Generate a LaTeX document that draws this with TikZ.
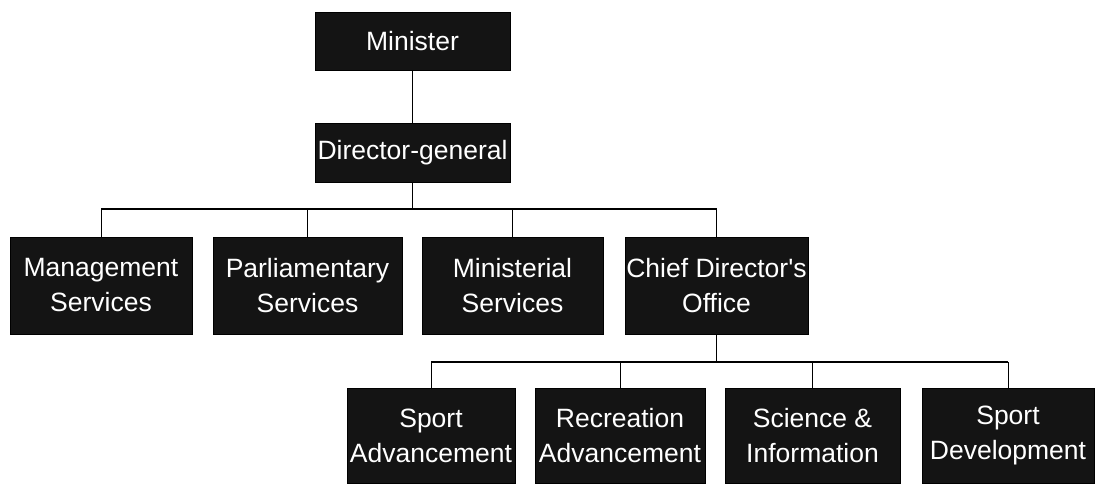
\documentclass[tikz,border=0pt]{standalone}
\usepackage{fontspec}
\setmainfont{Liberation Sans}
\begin{document}
\begin{tikzpicture}[x=1pt,y=-1pt,
  unit/.style={rectangle, fill=black!92, draw=black, line width=0.6pt,
    text=white, inner sep=0pt, align=center,
    font=\fontsize{26.5}{35}\selectfont},
  link/.style={draw=black, line width=0.9pt},
  bus/.style={draw=black, line width=1.6pt}]
\useasboundingbox (0,0) rectangle (1096,483);

% top of the hierarchy
\node[unit, minimum width=195, minimum height=58] (min) at (412.5,41) {Minister};
\node[unit, minimum width=195, minimum height=59] (dg) at (412.5,152.5) {Director-general};

% second level
\node[unit, minimum width=182, minimum height=97] (mgmt) at (101,285.5) {Management\\Services};
\node[unit, minimum width=189, minimum height=97] (parl) at (307.5,285.5) {Parliamentary\\Services};
\node[unit, minimum width=181, minimum height=97] (mins) at (512.5,285.5) {Ministerial\\Services};
\node[unit, minimum width=183, minimum height=97] (cdo) at (716.5,285.5) {Chief Director\textquotesingle s\\Office};

% third level
\node[unit, minimum width=168, minimum height=95] (spa) at (431,435.5) {Sport\\Advancement};
\node[unit, minimum width=170, minimum height=95] (rec) at (620,435.5) {Recreation\\Advancement};
\node[unit, minimum width=175, minimum height=95] (sci) at (812.5,435.5) {Science \&\\Information};
\node[unit, minimum width=172, minimum height=95] (spd) at (1008,435.5) {Sport\\Development};

% connectors
\coordinate (busA) at (412.5,209);
\coordinate (busB) at (716.5,362);

\draw[link] (min.south) -- (dg.north);
\draw[link] (dg.south) -- (busA);
\draw[bus] (mgmt.north |- busA) -- (cdo.north |- busA);
\draw[link] (mgmt.north) -- (mgmt.north |- busA);
\draw[link] (parl.north) -- (parl.north |- busA);
\draw[link] (mins.north) -- (mins.north |- busA);
\draw[link] (cdo.north) -- (cdo.north |- busA);

\draw[link] (cdo.south) -- (busB);
\draw[bus] (spa.north |- busB) -- (spd.north |- busB);
\draw[link] (spa.north) -- (spa.north |- busB);
\draw[link] (rec.north) -- (rec.north |- busB);
\draw[link] (sci.north) -- (sci.north |- busB);
\draw[link] (spd.north) -- (spd.north |- busB);
\end{tikzpicture}
\end{document}
